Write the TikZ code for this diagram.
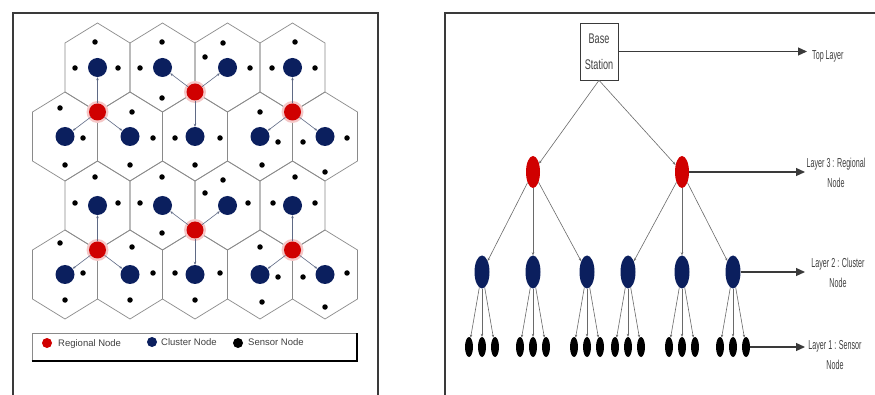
\documentclass[tikz,border=0pt]{standalone}
\usepackage{fontspec}
\setmainfont{Liberation Sans}
\newfontfamily\narrowfont[FakeStretch=0.55]{Liberation Sans}
\newfontfamily\boxfont[FakeStretch=0.65]{Liberation Sans}
\usetikzlibrary{arrows.meta,shapes.geometric}
\definecolor{redn}{HTML}{D00000}
\definecolor{bluen}{HTML}{0B1F5E}
\definecolor{framec}{HTML}{3A3A3A}
\definecolor{hexc}{HTML}{8A8A8A}
\definecolor{linkc}{HTML}{5F6A85}
\definecolor{treec}{HTML}{6A6A6A}
\definecolor{txtc}{HTML}{404040}
\newcommand\hexcell[2]{\draw[hexline] (#1,#2-44.5) -- (#1+32.5,#2-24.5) -- (#1+32.5,#2+24.5) -- (#1,#2+44.5) -- (#1-32.5,#2+24.5) -- (#1-32.5,#2-24.5) -- cycle;}
\begin{document}
\begin{tikzpicture}[x=1pt,y=-1pt,
  regional/.style={circle,fill=redn,minimum size=17pt,inner sep=0pt},
  cluster/.style={circle,fill=bluen,minimum size=19pt,inner sep=0pt},
  sensor/.style={circle,fill=black,minimum size=5.5pt,inner sep=0pt},
  halo/.style={fill=redn!22},
  hexline/.style={draw=hexc,line width=0.7pt},
  link/.style={draw=linkc,line width=0.6pt,-{Stealth[length=3pt,width=2.5pt]}},
  frame/.style={draw=framec,line width=1.3pt},
  legtext/.style={font=\fontsize{9.5}{11}\selectfont,text=txtc,anchor=west,inner sep=0pt},
  rreg/.style={ellipse,fill=redn,minimum width=14pt,minimum height=32pt,inner sep=0pt},
  rclu/.style={ellipse,fill=bluen,minimum width=15pt,minimum height=33pt,inner sep=0pt},
  rsen/.style={ellipse,fill=black,minimum width=8pt,minimum height=20pt,inner sep=0pt},
  tree/.style={draw=treec,line width=0.6pt,-{Stealth[length=3pt,width=2.5pt]}},
  layerarrow/.style={draw=framec,line width=1.2pt,-{Triangle[length=9pt,width=8pt]}},
  layertext/.style={font=\narrowfont\fontsize{13}{20}\selectfont,text=txtc,align=center,inner sep=0pt}
]
\useasboundingbox (0,0) rectangle (875,395);
\fill[white] (0,0) rectangle (875,395);
% ---------------- left panel ----------------
\draw[frame] (13,400) -- (13,13) -- (378,13) -- (378,400);
\foreach \cx in {97.5,162.5,227.5,292.5} {\hexcell{\cx}{67.5}\hexcell{\cx}{205.5}}
\foreach \cx in {65,130,195,260,325} {\hexcell{\cx}{136.5}\hexcell{\cx}{274.5}}
% halos
\foreach \p in {{97.5,112},{195,92},{292.5,112},{97.5,250},{195,230},{292.5,250}}
  \fill[halo] (\p) circle (11pt);
% regional nodes
\node[regional] (r1) at (97.5,112) {};
\node[regional] (r2) at (195,92) {};
\node[regional] (r3) at (292.5,112) {};
\node[regional] (r4) at (97.5,250) {};
\node[regional] (r5) at (195,230) {};
\node[regional] (r6) at (292.5,250) {};
% cluster nodes
\foreach \cx [count=\i] in {97.5,162.5,227.5,292.5} {
  \node[cluster] (b1\i) at (\cx,67.5) {};
  \node[cluster] (b3\i) at (\cx,205.5) {};
}
\foreach \cx [count=\i] in {65,130,195,260,325} {
  \node[cluster] (b2\i) at (\cx,136.5) {};
  \node[cluster] (b4\i) at (\cx,274.5) {};
}
% sensor nodes
\foreach \p [count=\i] in {{95,42},{75,68},{118,68},{140,68},{162,42},{162,98},{205,57},{223,43},{250,68},{295,42},{272,68},{315,68},
  {60,108},{83,138},{65,165},{132,112},{153,138},{130,165},{175,138},{220,138},{195,165},{260,112},{278,142},{262,165},{303,142},{347,138},{325,172},
  {95,177},{75,203},{118,203},{140,203},{162,177},{162,233},{205,193},{223,180},{248,203},{295,177},{273,203},{315,203},
  {60,243},{83,273},{65,300},{132,247},{153,273},{130,300},{175,273},{220,273},{195,300},{260,247},{278,277},{262,302},{303,277},{347,273},{325,307}}
  \node[sensor] (s\i) at (\p) {};
% links regional -> cluster
\foreach \r/\a/\b/\c in {r1/b11/b21/b22, r2/b12/b13/b23, r3/b14/b24/b25, r4/b31/b41/b42, r5/b32/b33/b43, r6/b34/b44/b45} {
  \draw[link] (\r) -- (\a);
  \draw[link] (\r) -- (\b);
  \draw[link] (\r) -- (\c);
}
% legend
\node[draw=hexc,line width=0.6pt,minimum width=325pt,minimum height=28pt,inner sep=0pt] (leg) at (194.5,347) {};
\draw[draw=black,line width=2.2pt] (leg.south west) -- (leg.south east) -- (leg.north east);
\node[circle,fill=redn,minimum size=10pt,inner sep=0pt] (lr) at (47,343) {};
\node[legtext] (lrt) at (58,344) {Regional Node};
\node[circle,fill=bluen,minimum size=10pt,inner sep=0pt] (lb) at (152,342) {};
\node[legtext] (lbt) at (161,342) {Cluster Node};
\node[circle,fill=black,minimum size=10pt,inner sep=0pt] (lk) at (238,343) {};
\node[legtext] (lkt) at (248,342) {Sensor Node};
% ---------------- right panel ----------------
\draw[frame] (445,400) -- (445,13) -- (880,13);
\node[draw=framec,line width=0.6pt,minimum width=38pt,minimum height=57pt,inner sep=0pt,align=center,
  font=\boxfont\fontsize{14}{26}\selectfont,text=txtc] (bs) at (599,51.5) {Base\\Station};
\node[rreg] (R1) at (533,172) {};
\node[rreg] (R2) at (682,172) {};
\foreach \cx [count=\i] in {482,533,587,628,682,733} {
  \node[rclu] (C\i) at (\cx,272) {};
  \node[rsen] (S\i a) at (\cx-13,347) {};
  \node[rsen] (S\i b) at (\cx,347) {};
  \node[rsen] (S\i c) at (\cx+13,347) {};
  \draw[tree] (C\i) -- (S\i a);
  \draw[tree] (C\i) -- (S\i b);
  \draw[tree] (C\i) -- (S\i c);
}
\draw[tree] (bs.south) -- (R1);
\draw[tree] (bs.south) -- (R2);
\foreach \i in {1,2,3} \draw[tree] (R1) -- (C\i);
\foreach \i in {4,5,6} \draw[tree] (R2) -- (C\i);
% layer arrows and labels
\coordinate (t0) at (807,51.5);
\coordinate (t3) at (805,172);
\coordinate (t2) at (805,272);
\coordinate (t1) at (805,347);
\draw[layerarrow] (bs.east) -- (t0);
\draw[layerarrow] (R2.east) -- (t3);
\draw[layerarrow] (C6.east) -- (t2);
\draw[layerarrow] (S6c.east) -- (t1);
\node[layertext,anchor=west] (l0) at (812,56) {Top Layer};
\node[layertext] (l3) at (836,173) {Layer 3 : Regional\\Node};
\node[layertext] (l2) at (838,273) {Layer 2 : Cluster\\Node};
\node[layertext] (l1) at (835,355) {Layer 1 : Sensor\\Node};
\end{tikzpicture}
\end{document}
